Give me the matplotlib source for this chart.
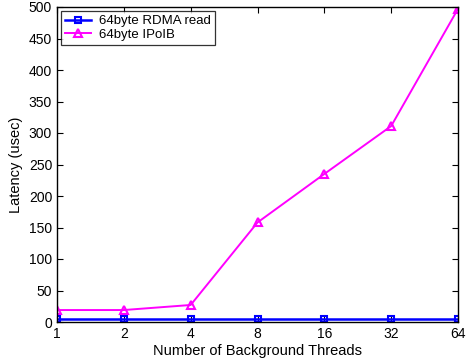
import numpy as np
import matplotlib.pyplot as plt

plt.rcParams['font.family'] = ['Liberation Sans', 'DejaVu Sans']

threads = [1, 2, 4, 8, 16, 32, 64]
rdma_read = [5, 5, 5, 5, 5, 5, 5]
ipoib = [19, 19, 27, 158, 235, 311, 497]

fig = plt.figure(figsize=(4.66, 3.62), dpi=100)
ax = fig.add_axes([57 / 466, 40 / 362, 401 / 466, 315 / 362])

x = np.log2(threads)
ax.plot(x, rdma_read, color='#0000ff', marker='s', markersize=5,
        markerfacecolor='none', markeredgewidth=1.5, linewidth=1.8,
        label='64byte RDMA read')
ax.plot(x, ipoib, color='#ff00ff', marker='^', markersize=6,
        markerfacecolor='none', markeredgewidth=1.5, linewidth=1.4,
        label='64byte IPoIB')

ax.set_xlim(x[0], x[-1])
ax.set_ylim(0, 500)
ax.set_xticks(x)
ax.set_xticklabels([str(t) for t in threads])
ax.set_yticks(np.arange(0, 501, 50))
ax.tick_params(direction='in', top=True, right=True, labelsize=10, length=4)
for s in ax.spines.values():
    s.set_linewidth(1.0)

ax.set_xlabel('Number of Background Threads', fontsize=10.5, labelpad=2)
ax.set_ylabel('Latency (usec)', fontsize=10.5)

leg = ax.legend(loc='upper left', fontsize=9.5, frameon=True, fancybox=False,
                edgecolor='black', borderpad=0.3, labelspacing=0.1,
                handlelength=2.0, handletextpad=0.6, borderaxespad=0.3)
leg.get_frame().set_linewidth(0.9)

fig.savefig('out.png', dpi=100)
